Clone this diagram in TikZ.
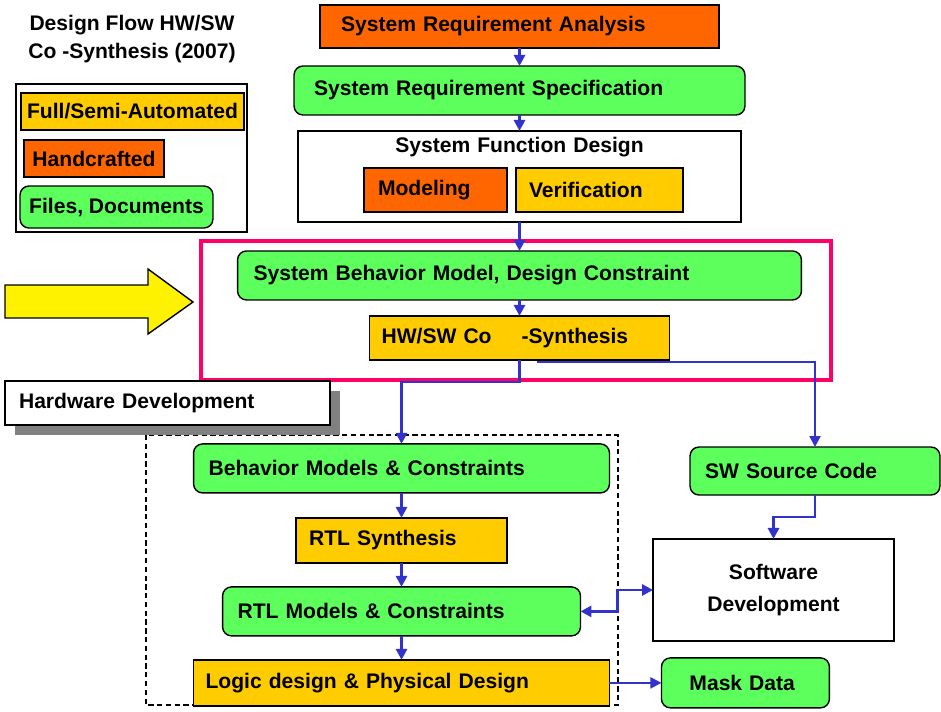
\documentclass[tikz,border=0pt]{standalone}
\usepackage{fontspec}
\setmainfont{Liberation Sans}
\usetikzlibrary{positioning,arrows.meta,shadows}

\definecolor{docgreen}{RGB}{92,255,92}
\definecolor{autoyellow}{RGB}{255,204,0}
\definecolor{handorange}{RGB}{255,102,0}
\definecolor{flowblue}{RGB}{51,51,204}
\definecolor{hotpink}{RGB}{255,0,102}

\tikzstyle{filebox} = [draw, rectangle, rounded corners=0.18cm, fill=docgreen, line width=0.8pt, outer sep=0pt, align=left]
\tikzstyle{autobox} = [draw, rectangle, fill=autoyellow, line width=0.8pt, outer sep=0pt, align=left]
\tikzstyle{handbox} = [draw, rectangle, fill=handorange, line width=0.8pt, outer sep=0pt, align=left]
\tikzstyle{whitebox} = [draw, rectangle, fill=white, line width=0.8pt, outer sep=0pt]
\tikzstyle{flow} = [draw=flowblue, line width=1.6pt, ->]

\begin{document}
\begin{tikzpicture}[x=0.02cm, y=-0.02cm, >={Triangle[length=0.22cm, width=0.22cm]}, font=\fontsize{12}{15}\selectfont\bfseries]
            \useasboundingbox (0,0) rectangle (941,711);

            % Title and legend
            \node[align=center, font=\fontsize{12}{16}\selectfont\bfseries] (Title) at (132,39) {Design Flow HW/SW\\Co -Synthesis (2007)};
            \node[whitebox, minimum width=4.62cm, minimum height=2.96cm] (Legend) at (131.5,158) {};
            \node[autobox, minimum width=4.46cm, minimum height=0.74cm] (LegAuto) at (132.5,111.5) {Full/Semi-Automated};
            \node[handbox, minimum width=2.8cm, minimum height=0.74cm] (LegHand) at (94,158.5) {Handcrafted};
            \node[filebox, minimum width=3.86cm, minimum height=0.84cm] (LegFiles) at (116.5,207) {Files, Documents};

            % System level
            \node[handbox, minimum height=0.86cm, inner xsep=0.42cm, text width=7.14cm] (SRA) at (519.5,26.5) {System Requirement Analysis};
            \node[filebox, minimum height=0.98cm, inner xsep=0.4cm, text width=8.22cm, below=0.36cm of SRA] (SRS) {System Requirement Specification};
            \node[whitebox, inner xsep=0cm, inner ysep=0cm, text width=8.86cm, text height=0.44cm, text depth=1.38cm, align=center, below=0.32cm of SRS] (SFD) {System Function Design};
            \node[handbox, minimum height=0.88cm, inner xsep=0.28cm, text width=2.3cm, above=0.2cm of SFD.south, xshift=-1.68cm] (Modeling) {Modeling};
            \node[autobox, minimum height=0.88cm, inner xsep=0.26cm, text width=2.82cm, right=0.18cm of Modeling] (Verification) {Verification};

            % Co-synthesis focus
            \node[draw=hotpink, line width=2.2pt, inner sep=0pt, outer sep=0pt, minimum width=12.6cm, minimum height=2.78cm] (Focus) at (516,310.5) {};
            \node[filebox, minimum height=0.98cm, inner xsep=0.32cm, text width=10.64cm, below=0.58cm of SFD] (SBM) {System Behavior Model, Design Constraint};
            \node[autobox, minimum height=0.88cm, inner xsep=0.24cm, text width=5.52cm, below=0.32cm of SBM] (HWSW) {HW/SW Co\hspace{0.6cm}-Synthesis};
            \draw[fill=yellow, line width=0.8pt] (5,285) -- (148,285) -- (148,269) -- (193,302) -- (148,334) -- (148,318) -- (5,318) -- cycle;

            % Hardware side
            \draw[line width=0.8pt, dash pattern=on 3pt off 2pt] (146,435) rectangle (618,705);
            \node[whitebox, drop shadow={shadow xshift=0.2cm, shadow yshift=-0.2cm, fill=gray, opacity=1}, minimum height=0.88cm, inner xsep=0.28cm, text width=5.94cm, align=left] (HWDev) at (167.5,403) {Hardware Development};
            \node[filebox, minimum height=0.98cm, inner xsep=0.3cm, text width=7.72cm, below=1.68cm of HWSW, xshift=-2.36cm] (Behavior) {Behavior Models \& Constraints};
            \node[autobox, minimum height=0.9cm, inner xsep=0.26cm, text width=3.7cm, below=0.5cm of Behavior] (RTLSyn) {RTL Synthesis};
            \node[filebox, minimum height=0.98cm, inner xsep=0.3cm, text width=6.56cm, below=0.48cm of RTLSyn] (RTLMod) {RTL Models \& Constraints};
            \node[autobox, minimum height=0.92cm, inner xsep=0.24cm, text width=7.84cm, below=0.48cm of RTLMod] (Logic) {Logic design \& Physical Design};

            % Software side
            \node[filebox, minimum height=0.96cm, inner xsep=0.3cm, text width=4.4cm] (SWsrc) at (815,471) {SW Source Code};
            \node[whitebox, minimum width=4.82cm, minimum height=2.04cm, align=center, font=\fontsize{12}{18}\selectfont\bfseries, below=0.88cm of SWsrc, xshift=-0.83cm] (SWdev) {Software\\Development};
            \node[filebox, minimum height=1.0cm, inner xsep=0.56cm, text width=2.24cm, right=1.04cm of Logic] (Mask) {Mask Data};

            % Drawing connectors
            \draw[flow] (SRA.south) -- (SRS.north);
            \draw[flow] (SRS.south) -- (SFD.north);
            \draw[flow] (SFD.south) -- (SBM.north);
            \draw[flow] (SBM.south) -- (HWSW.north);
            \draw[flow] (HWSW.south) -- ++(0,-0.44cm) -| (Behavior.north);
            \draw[flow, line width=1.2pt] ([xshift=0.36cm, yshift=-0.04cm]HWSW.south) -| (SWsrc.north);
            \draw[flow] (SWsrc.south) -- ++(0,-0.44cm) -| (SWdev.north);
            \draw[flow] (Behavior.south) -- (RTLSyn.north);
            \draw[flow] (RTLSyn.south) -- (RTLMod.north);
            \draw[flow] (RTLMod.south) -- (Logic.north);
            \draw[flow, <->] (RTLMod.east) -- ++(0.74cm,0) |- (SWdev.west);
            \draw[flow, line width=1.2pt] (Logic.east) -- (Mask.west);
        \end{tikzpicture}
\end{document}
